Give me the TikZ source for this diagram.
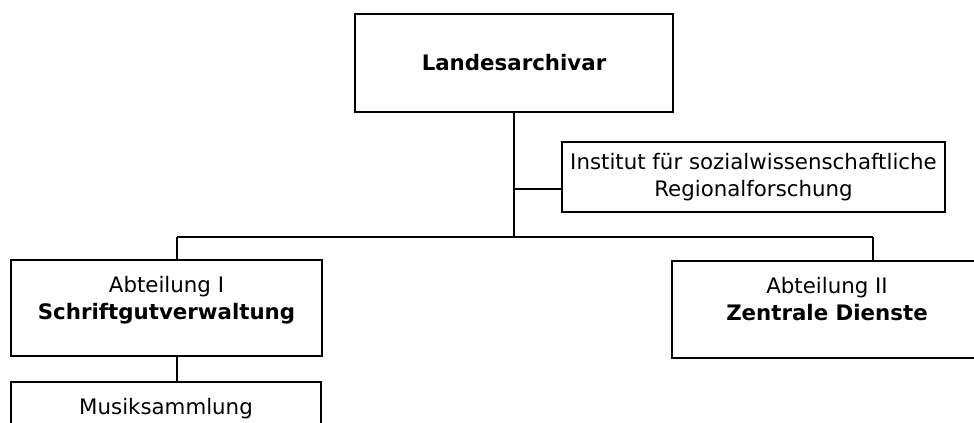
\documentclass[tikz,border=0pt]{standalone}
\usepackage{fontspec}
\setmainfont{DejaVu Sans}
\usetikzlibrary{positioning}

\tikzset{
  box/.style={draw, line width=1.3pt, inner sep=0pt},
  txt/.style={align=center, inner sep=0pt, font=\fontsize{16}{20}\selectfont},
  conn/.style={line width=1.3pt},
}

\begin{document}
\begin{tikzpicture}[x=0.75pt, y=-0.75pt]
        \useasboundingbox (0,0) rectangle (974,422);
        \clip (0,0) rectangle (974,422);
        %Kaesten
        \node[box, txt, minimum width=318*0.75pt, minimum height=98*0.75pt] (land) at (514,63) {\textbf{Landesarchivar}};
        \node[box, txt, minimum width=383*0.75pt, minimum height=70*0.75pt] (inst) at (753.5,177) {Institut für sozialwissenschaftliche\\Regionalforschung};
        \node[box, minimum width=311*0.75pt, minimum height=96*0.75pt] (abtI) at (166.5,308) {};
        \node[box, minimum width=310*0.75pt, minimum height=97*0.75pt] (abtII) at (827,309.5) {};
        \node[box, minimum width=310*0.75pt, minimum height=98*0.75pt] (musik) at (166,431) {};
        %Texte
        \node[txt, below=12.75pt of abtI.north] (abtIT) {Abteilung I\\\textbf{Schriftgutverwaltung}};
        \node[txt, below=12.75pt of abtII.north] (abtIIT) {Abteilung II\\\textbf{Zentrale Dienste}};
        \node[txt, below=12.75pt of musik.north] (musikT) {Musiksammlung};
        %Linien
        \coordinate (bar) at (514,237);
        \coordinate (barL) at (177,237);
        \coordinate (barR) at (873,237);
        \coordinate (instA) at (514,189);
        \draw[conn] (land.south) -- (bar);
        \draw[conn] (instA) -- (instA -| inst.west);
        \draw[conn] (barL) -- (barR);
        \draw[conn] (barL) -- (barL |- abtI.north);
        \draw[conn] (barR) -- (barR |- abtII.north);
        \draw[conn] (barL |- abtI.south) -- (barL |- musik.north);
\end{tikzpicture}
\end{document}
